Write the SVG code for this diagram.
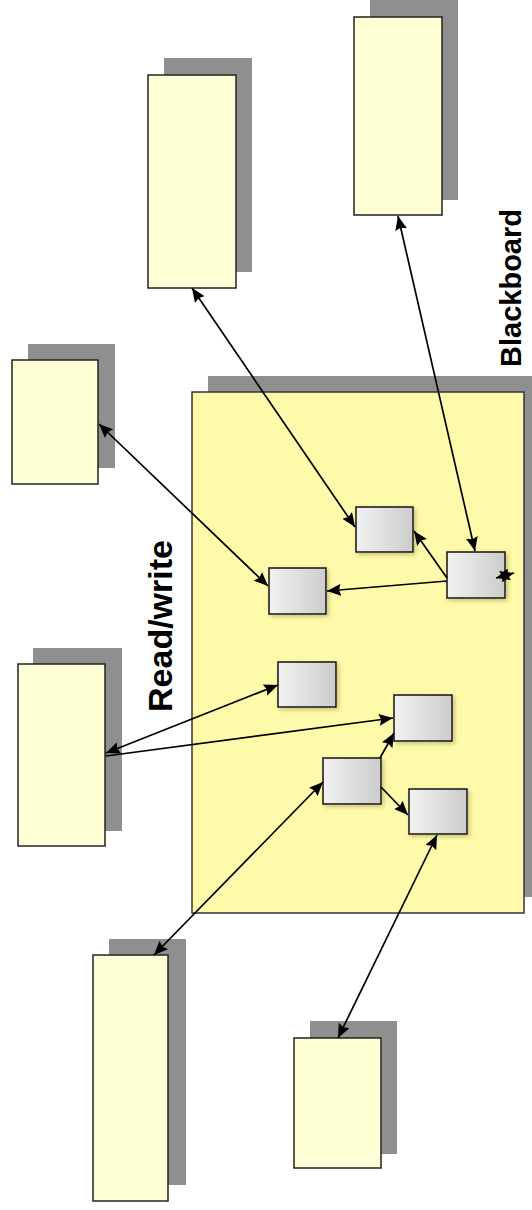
<svg xmlns="http://www.w3.org/2000/svg" width="532" height="1210" viewBox="0 0 532 1210">
<defs>
<style>
.shadow{fill:#8f8f8f}
.outer{fill:#FFFFD6;stroke:#222;stroke-width:1.5}
.board{fill:#FFFAAA;stroke:#333;stroke-width:1.5}
.small{fill:url(#g);stroke:#111;stroke-width:1.5;filter:url(#ds)}
.conn{stroke:#000;stroke-width:1.7;fill:none}
.lbl{font-family:"Liberation Sans",Arial,sans-serif;font-weight:bold;fill:#000}
</style>
<linearGradient id="g" x1="0" y1="0" x2="1" y2="0">
<stop offset="0" stop-color="#F2F2F2"/>
<stop offset="1" stop-color="#CCCCCC"/>
</linearGradient>
<filter id="ds" x="-30%" y="-30%" width="160%" height="160%">
<feDropShadow dx="2" dy="2" stdDeviation="2" flood-color="#807a40" flood-opacity="0.45"/>
</filter>
<marker id="ah" viewBox="0 0 14 12" refX="14" refY="6" markerWidth="14" markerHeight="12" markerUnits="userSpaceOnUse" orient="auto-start-reverse">
<path d="M0,0 L14,6 L0,12 L2,6 Z" fill="#000"/>
</marker>
</defs>
<rect width="532" height="1210" fill="#fff"/>

<g id="blackboard">
<rect class="shadow" x="208" y="376" width="332" height="521"/>
<rect class="board" x="192" y="392" width="332" height="521"/>
</g>

<g id="ks1"><rect class="shadow" x="28" y="344" width="87" height="124"/><rect class="outer" x="12" y="360" width="86" height="124"/></g>
<g id="ks2"><rect class="shadow" x="164" y="58" width="88" height="214"/><rect class="outer" x="148" y="75" width="88" height="213"/></g>
<g id="ks3"><rect class="shadow" x="370" y="0" width="88" height="200"/><rect class="outer" x="354" y="17" width="88" height="198"/></g>
<g id="ks4"><rect class="shadow" x="33" y="648" width="89" height="183"/><rect class="outer" x="18" y="664" width="87" height="182"/></g>
<g id="ks5"><rect class="shadow" x="109" y="939" width="77" height="246"/><rect class="outer" x="93" y="955" width="75" height="246"/></g>
<g id="ks6"><rect class="shadow" x="310" y="1021" width="87" height="133"/><rect class="outer" x="294" y="1038" width="87" height="130"/></g>

<g id="nA"><rect class="small" x="356" y="507" width="57" height="45"/></g>
<g id="nB"><rect class="small" x="447" y="552" width="58" height="46"/></g>
<g id="nG"><rect class="small" x="269" y="568" width="57" height="46"/></g>
<g id="nC"><rect class="small" x="278" y="662" width="58" height="45"/></g>
<g id="nD"><rect class="small" x="394" y="695" width="58" height="46"/></g>
<g id="nE"><rect class="small" x="323" y="758" width="58" height="46"/></g>
<g id="nF"><rect class="small" x="409" y="789" width="58" height="45"/></g>

<g id="connectors">
<line class="conn" x1="99" y1="424" x2="268" y2="586" marker-start="url(#ah)" marker-end="url(#ah)"/>
<line class="conn" x1="192" y1="288" x2="355" y2="527" marker-start="url(#ah)" marker-end="url(#ah)"/>
<line class="conn" x1="398" y1="216" x2="475" y2="551" marker-start="url(#ah)" marker-end="url(#ah)"/>
<line class="conn" x1="447" y1="578" x2="414" y2="531" marker-end="url(#ah)"/>
<line class="conn" x1="447" y1="581" x2="327" y2="591" marker-end="url(#ah)"/>
<line class="conn" x1="496" y1="578" x2="514" y2="573" marker-start="url(#ah)" marker-end="url(#ah)"/>
<line class="conn" x1="106" y1="753" x2="278" y2="685" marker-start="url(#ah)" marker-end="url(#ah)"/>
<line class="conn" x1="106" y1="756" x2="393" y2="718" marker-end="url(#ah)"/>
<line class="conn" x1="380" y1="758" x2="394" y2="733" marker-end="url(#ah)"/>
<line class="conn" x1="381" y1="787" x2="408" y2="815" marker-end="url(#ah)"/>
<line class="conn" x1="154" y1="955" x2="323" y2="782" marker-start="url(#ah)" marker-end="url(#ah)"/>
<line class="conn" x1="338" y1="1038" x2="437" y2="835" marker-start="url(#ah)" marker-end="url(#ah)"/>
</g>

<text class="lbl" font-size="34" transform="translate(172,626) rotate(-90)" text-anchor="middle">Read/write</text>
<text class="lbl" font-size="29" transform="translate(521,288) rotate(-90)" text-anchor="middle">Blackboard</text>
</svg>
